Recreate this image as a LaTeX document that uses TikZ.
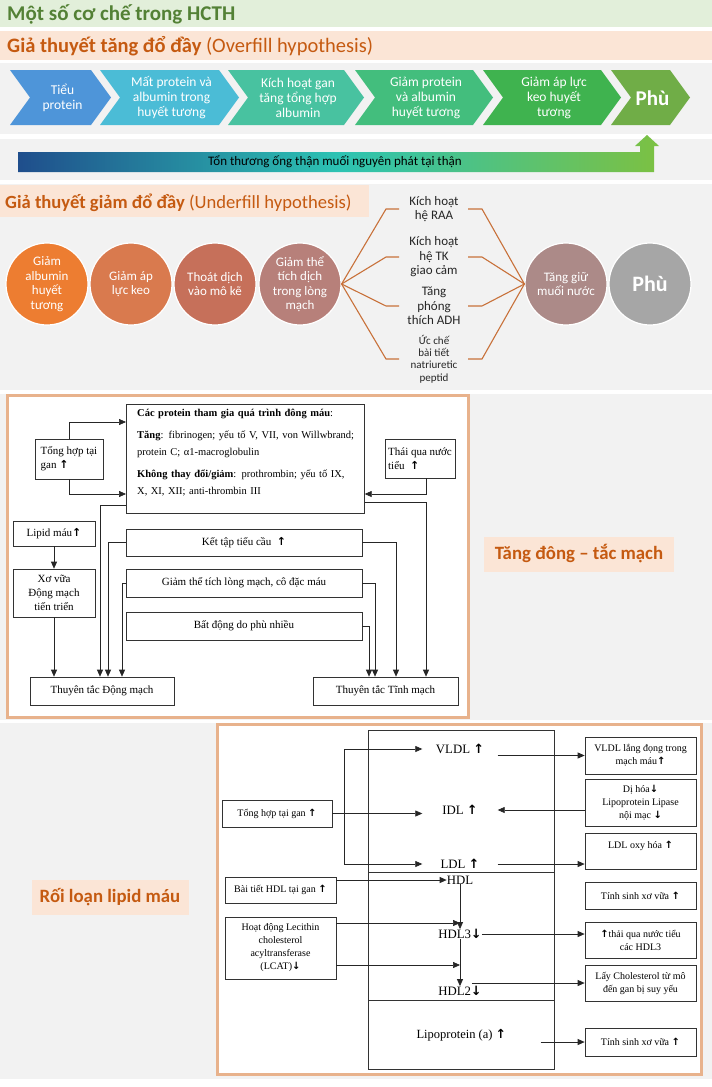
\documentclass[tikz,border=0pt]{standalone}
\usepackage{fontspec}
\setmainfont{Carlito}
\newfontfamily\tnr{Liberation Serif}
\newfontfamily\arrfont{DejaVu Sans}
\usepackage{tikz}
\usetikzlibrary{arrows.meta,positioning,calc,backgrounds}

\newcommand{\incr}{{\arrfont\bfseries ↑}}
\newcommand{\decr}{{\arrfont\bfseries ↓}}

\definecolor{titlegreen}{HTML}{538135}
\definecolor{bandgreen}{HTML}{E2EFDA}
\definecolor{peach}{HTML}{FBE5D6}
\definecolor{rust}{HTML}{C55A11}
\definecolor{panel}{HTML}{F2F2F2}
\definecolor{framecol}{HTML}{E8B28C}
\definecolor{chA}{HTML}{4E95D9}
\definecolor{chB}{HTML}{4BBCD6}
\definecolor{chC}{HTML}{48C2A0}
\definecolor{chD}{HTML}{43BE7D}
\definecolor{chE}{HTML}{3FB34F}
\definecolor{chF}{HTML}{70AD47}
\definecolor{gradA}{HTML}{1F4E8C}
\definecolor{gradB}{HTML}{2CC3B3}
\definecolor{gradC}{HTML}{7CC142}
\definecolor{cirA}{HTML}{ED7D31}
\definecolor{cirB}{HTML}{D97A4E}
\definecolor{cirC}{HTML}{C6705A}
\definecolor{cirD}{HTML}{B7807A}
\definecolor{cirE}{HTML}{AC8A88}
\definecolor{cirF}{HTML}{A6A6A6}
\definecolor{fanline}{HTML}{C8713A}

\begin{document}
\begin{tikzpicture}[x=1pt, y=-1pt,
    heading/.style={anchor=west, inner sep=0, text=rust, font=\fontsize{20.5}{22}\selectfont},
    tagbox/.style={fill=peach, text=rust, inner sep=0, font=\bfseries\fontsize{18.8}{21}\selectfont},
    chevtext/.style={text=white, align=center, inner sep=0, font=\fontsize{13.5}{15}\selectfont},
    circ/.style={circle, draw=white, line width=1.2pt, minimum size=82pt, inner sep=0,
        text=white, align=center, font=\fontsize{13}{14.5}\selectfont},
    midtext/.style={align=center, inner sep=0, text=black!85, font=\fontsize{13}{14.5}\selectfont},
    fan/.style={draw=fanline, line width=1.1pt},
    orangeframe/.style={draw=framecol, line width=3pt, fill=white},
    % Diagram boxes
    box/.style={draw=black!80, line width=0.7pt, fill=white, inner sep=2pt, align=center,
        font=\tnr\fontsize{11}{14}\selectfont},
    sbox/.style={box, font=\tnr\fontsize{10}{13}\selectfont},
    lip/.style={inner sep=0, font=\tnr\fontsize{12.8}{14}\selectfont},
    arr/.style={-{Triangle[length=7pt, width=6pt]}, line width=0.7pt, black!85},
    ]

    \useasboundingbox (0,0) rectangle (712,1087);
    \fill[white] (0,0) rectangle (712,1087);

    % Title bands
    \fill[bandgreen] (0,0) rectangle (712,27);
    \node[heading, text=titlegreen, font=\bfseries\fontsize{21}{22}\selectfont] (title) at (7,14) {Một số cơ chế trong HCTH};
    \fill[peach] (0,31) rectangle (712,60);
    \node[heading] (overfill) at (7,46) {\textbf{Giả thuyết tăng đổ đầy} (Overfill hypothesis)};

    % Gray panels
    \fill[panel] (0,63) rectangle (712,134);
    \fill[panel] (0,139) rectangle (712,180);
    \fill[panel] (0,184) rectangle (712,390);
    \fill[panel] (0,394) rectangle (712,720);
    \fill[panel] (0,723) rectangle (712,1079);

    % Overfill chevrons
    \foreach \xa/\xb/\col/\txt [count=\i] in {
        10/111/chA/{Tiểu\\protein},
        100/239/chB/{Mất protein và\\albumin trong\\huyết tương},
        228/364/chC/{Kích hoạt gan\\tăng tổng hợp\\albumin},
        355/493/chD/{Giảm protein\\và albumin\\huyết tương},
        483/621/chE/{Giảm áp lực\\keo huyết\\tương},
        611/690/chF/{\bfseries\fontsize{21}{22}\selectfont Phù}} {
        \fill[\col] (\xa,70) -- (\xb-20,70) -- (\xb,97.5) -- (\xb-20,125) -- (\xa,125) -- (\xa+20,97.5) -- cycle;
        \node[chevtext] (chev\i) at ({(\xa+\xb)/2+2},98) {\txt};
    }

    % Bent gradient arrow
    \shade[left color=gradA, right color=gradC, middle color=gradB]
        (18,152) -- (640,152) -- (640,146) -- (635,146) -- (647,135) -- (659,146)
        -- (654,146) -- (654,172) -- (18,172) -- cycle;
    \node[inner sep=0, font=\fontsize{13}{14}\selectfont] (renal) at (335,162) {Tổn thương ống thận muối nguyên phát tại thận};

    % Underfill hypothesis
    \fill[peach] (0,185) rectangle (369,217);
    \node[heading, font=\fontsize{18.6}{20}\selectfont] (underfill) at (5,203) {\textbf{Giả thuyết giảm đổ đầy} (Underfill hypothesis)};

    \node[circ, fill=cirA] (c1) at (47,284) {Giảm\\albumin\\huyết\\tương};
    \node[circ, fill=cirB] (c2) at (131,284) {Giảm áp\\lực keo};
    \node[circ, fill=cirC] (c3) at (215,284) {Thoát dịch\\vào mô kẽ};
    \node[circ, fill=cirD] (c4) at (300,284) {Giảm thể\\tích dịch\\trong lòng\\mạch};
    \node[circ, fill=cirE] (c5) at (566,284) {Tăng giữ\\muối nước};
    \node[circ, fill=cirF, font=\bfseries\fontsize{22}{24}\selectfont] (c6) at (650,284) {Phù};

    \node[midtext] (raa) at (434,209) {Kích hoạt\\hệ RAA};
    \node[midtext] (tk) at (434,257) {Kích hoạt\\hệ TK\\giao cảm};
    \node[midtext] (adh) at (434,306) {Tăng\\phóng\\thích ADH};
    \node[midtext, font=\fontsize{11}{12.2}\selectfont] (nat) at (434,359) {Ức chế\\bài tiết\\natriuretic\\peptid};

    \foreach \m in {raa,tk,adh,nat} {
        \draw[fan] (c4.east) -- ($(\m)+(-48,0)$) -- ($(\m)+(-35,0)$);
        \draw[fan] ($(\m)+(34,0)$) -- ($(\m)+(48,0)$) -- (c5.west);
    }

    % Hypercoagulability
    \draw[orangeframe] (7,395) rectangle (468,717);
    \node[tagbox, minimum width=190, minimum height=35] (coaglabel) at (579,554) {Tăng đông – tắc mạch};

    \node[box, minimum width=238, minimum height=109, anchor=north west] (main) at (126,404) {};
    \node[anchor=north west, inner sep=0, text width=225, align=left, font=\tnr\fontsize{10.5}{17}\selectfont] (maintext) at (137,409) {%
        {\bfseries Các protein tham gia quá trình đông máu}:\\[5pt]
        {\bfseries Tăng}: fibrinogen; yếu tố V, VII, von Willwbrand;\\
        protein C; α1-macroglobulin\\[5pt]
        {\bfseries Không thay đổi/giảm}: prothrombin; yếu tố IX,\\
        X, XI, XII; anti-thrombin III};
    \node[box, minimum width=68, minimum height=40, align=left] (gan) at (69,459) {Tổng hợp tại\\gan \incr};
    \node[box, minimum width=70, minimum height=39, align=left] (thai) at (420,458.5) {Thái qua nước\\tiểu\ \ \incr};
    \node[box, minimum width=82, minimum height=25] (lipid) at (54,533.5) {Lipid máu\incr};
    \node[box, minimum width=82, minimum height=48] (xova) at (54,593) {Xơ vữa\\Động mạch\\tiến triển};
    \node[box, minimum width=236, minimum height=27] (ketap) at (244,542.5) {Kết tập tiểu cầu\ \ \incr};
    \node[box, minimum width=236, minimum height=28] (giam) at (244,583) {Giảm thể tích lòng mạch, cô đặc máu};
    \node[box, minimum width=236, minimum height=28] (batdong) at (244,626) {Bất động do phù nhiều};
    \node[box, minimum width=144, minimum height=28] (dm) at (102,691) {Thuyên tắc Động mạch};
    \node[box, minimum width=145, minimum height=28] (tm) at (385.5,691) {Thuyên tắc Tĩnh mạch};

    % Inputs to protein box
    \draw[arr] (gan.north) |- (main.west |- 0,422);
    \draw[arr] (gan.south) |- (main.west |- 0,494);
    \draw[arr] ([xshift=6pt]thai.south) |- (main.east |- 0,494);
    % Arterial side
    \draw[arr] (lipid.south) -- (xova.north);
    \draw[arr] (xova.south) -- (dm.north -| xova.south);
    \draw[arr] (main.west |- 0,505) -| (dm.north -| 100,0);
    \draw[arr] (ketap.west) -| (dm.north -| 108,0);
    \draw[arr] (giam.west) -| (dm.north -| 122,0);
    % Venous side
    \draw[arr] (main.east |- 0,502) -| (tm.north -| 426,0);
    \draw[arr] (ketap.east) -| (tm.north -| 396,0);
    \draw[arr] (giam.east) -| (tm.north -| 375,0);
    \draw[arr] (batdong.east) -| (tm.north -| 369,0);

    % Dyslipidemia
    \draw[orangeframe] (217,724) rectangle (701,1074);
    \node[tagbox, minimum width=157, minimum height=35] (liplabel) at (110,897) {Rối loạn lipid máu};

    \node[box, minimum width=186, minimum height=142, anchor=north west] (ldlcol) at (368,730) {};
    \node[box, minimum width=186, minimum height=128, anchor=north west] (hdlcol) at (368,872) {};
    \node[box, minimum width=186, minimum height=69, anchor=north west, font=\tnr\fontsize{12.5}{14}\selectfont] (lpa) at (368,1000) {Lipoprotein (a) \incr};

    \node[lip, minimum width=75] (vldl) at (460,749) {VLDL \incr};
    \node[lip, minimum width=75] (idl) at (460,810) {IDL \incr};
    \node[lip, minimum width=75] (ldl) at (460,864) {LDL \incr};
    \node[lip] (hdl) at (460,880) {HDL};
    \node[lip] (hdl3) at (460,934) {HDL3\decr};
    \node[lip] (hdl2) at (460,991) {HDL2\decr};

    \node[sbox, minimum width=110, minimum height=27] (tonghop) at (277,813.5) {Tổng hợp tại gan \incr};
    \node[sbox, minimum width=111, minimum height=26] (baitiet) at (280.5,890) {Bài tiết HDL tại gan \incr};
    \node[sbox, minimum width=111, minimum height=62] (lcat) at (280.5,948) {Hoạt động Lecithin\\cholesterol\\acyltransferase\\(LCAT)\decr};

    \node[sbox, minimum width=111, minimum height=37] (vldldep) at (640.5,755.5) {VLDL lắng đọng trong\\mạch máu\incr};
    \node[sbox, minimum width=111, minimum height=47] (catab) at (640.5,802.5) {Dị hóa\decr\\Lipoprotein Lipase\\nội mạc \decr};
    \node[sbox, minimum width=111, minimum height=36] (ldlox) at (640.5,851) {LDL oxy hóa \incr\\\mbox{}};
    \node[sbox, minimum width=111, minimum height=27] (athero1) at (640.5,895.5) {Tính sinh xơ vữa \incr};
    \node[sbox, minimum width=111, minimum height=36] (hdlloss) at (640.5,940) {\incr thải qua nước tiểu\\các HDL3};
    \node[sbox, minimum width=111, minimum height=36] (chol) at (640.5,983) {Lấy Cholesterol từ mô\\đến gan bị suy yếu};
    \node[sbox, minimum width=111, minimum height=28] (athero2) at (640.5,1042) {Tính sinh xơ vữa \incr};

    % Lipoprotein arrows
    \draw[arr] (tonghop.east) -- (tonghop.east -| idl.west);
    \draw[arr] (tonghop.east -| 344,0) |- (vldl.west);
    \draw[arr] (tonghop.east -| 344,0) |- (ldl.west);
    \draw[arr] (vldl.east |- vldldep.west) -- (vldldep.west);
    \draw[arr] (catab.west |- idl.east) -- (idl.east);
    \draw[arr] (ldl.east) -- (ldl.east -| ldlox.west);
    \draw[arr] (baitiet.east |- hdl.west) -- (hdl.west);
    \draw[arr] (hdl.south) -- (hdl3.north);
    \draw[arr] (lcat.east |- 0,923) -- (hdl3.north |- 0,923);
    \draw[arr] (lcat.east |- 0,965) -- (hdl2.north |- 0,965);
    \draw[arr] (hdl3.south) -- (hdl2.north);
    \draw[arr] (hdl3.east) -- (hdl3.east -| hdlloss.west);
    \draw[arr] ([xshift=-10pt]hdl2.north east |- chol.west) -- (chol.west);
    \draw[arr] ([xshift=-14pt]lpa.east |- athero2.west) -- (athero2.west);

\end{tikzpicture}
\end{document}
